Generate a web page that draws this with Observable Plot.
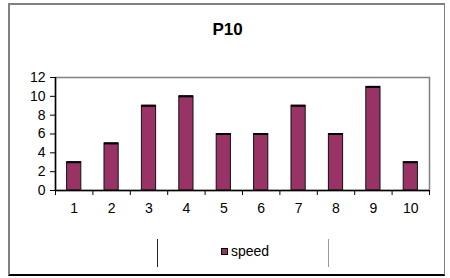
<!DOCTYPE html>
<html>
<head>
<meta charset="utf-8">
<script src="https://cdn.jsdelivr.net/npm/d3@7"></script>
<script src="https://cdn.jsdelivr.net/npm/@observablehq/plot@0.6"></script>
<style>
  html, body { margin: 0; padding: 0; background: #fff; }
  #wrap { position: relative; width: 450px; height: 278px; overflow: hidden; font-family: Arial, "Liberation Sans", sans-serif; }
  #border { position: absolute; left: 8px; top: 3px; width: 434px; height: 269px;
            border-top: 2px solid #808080; border-left: 2px solid #808080; border-right: 1px solid #808080; border-bottom: 2px solid #000; }
  #title { position: absolute; left: 0; top: 20px; width: 455px; text-align: center; font-weight: bold; font-size: 17px; color: #000; }
  #chart { position: absolute; left: 0; top: 0; }
  #legend { position: absolute; left: 157px; top: 239px; width: 172px; height: 28px; }
  #legend .l { position: absolute; left: 0; top: 0; width: 1px; height: 28px; background: #222; }
  #legend .r { position: absolute; right: 0; top: 0; width: 1px; height: 28px; background: #999; }
  #legend .item { position: absolute; left: 64px; top: 4px; font-size: 14px; color: #000; white-space: nowrap; }
  #legend .sw { display: inline-block; width: 5px; height: 5px; border: 1px solid #000; vertical-align: 1px; margin-right: 3px; }
</style>
</head>
<body>
<div id="wrap">
  <div id="border"></div>
  <div id="chart"></div>
  <div id="title"></div>
  <div id="legend"><div class="l"></div><div class="r"></div><div class="item"><span class="sw"></span><span class="txt"></span></div></div>
</div>
<script>
const title = "P10";
const seriesName = "speed";
const categories = [1, 2, 3, 4, 5, 6, 7, 8, 9, 10];
const speed = [3, 5, 9, 10, 6, 6, 9, 6, 11, 3];
const yTicks = [0, 2, 4, 6, 8, 10, 12];
const barColor = "#993366";

const data = categories.map((c, i) => ({cat: c, speed: speed[i]}));
const bounds = categories.map(c => c - 0.5).concat([categories[categories.length - 1] + 0.5]);
const half = 0.19;

const chart = Plot.plot({
  width: 450,
  height: 278,
  marginLeft: 55,
  marginRight: 21,
  marginTop: 77,
  marginBottom: 88,
  style: {background: "transparent", fontFamily: "Arial, 'Liberation Sans', sans-serif", fontSize: "14px", color: "#000"},
  x: {type: "linear", domain: [0.5, 10.5], label: null},
  y: {domain: [0, 12], label: null},
  marks: [
    Plot.frame({stroke: "#808080", strokeWidth: 1.5}),
    Plot.rectY(data, {x1: d => d.cat - half, x2: d => d.cat + half, y: "speed", fill: barColor, stroke: "#111", strokeWidth: 1}),
    Plot.ruleY(data, {x1: d => d.cat - half, x2: d => d.cat + half, y: "speed", stroke: "#000", strokeWidth: 2}),
    Plot.ruleY([0], {stroke: "#000", strokeWidth: 1.5}),
    Plot.ruleX([0.5], {y1: 0, y2: 12, stroke: "#000", strokeWidth: 1.5}),
    Plot.axisY({ticks: yTicks, tickSize: 5, tickPadding: 5, fontSize: 14, stroke: "#000", label: null}),
    Plot.axisX({ticks: bounds, tickSize: 5, tickFormat: () => "", stroke: "#000", label: null}),
    Plot.axisX({ticks: categories, tickSize: 0, tickPadding: 13, fontSize: 14, label: null})
  ]
});
document.getElementById("chart").appendChild(chart);
document.getElementById("title").textContent = title;
document.querySelector("#legend .txt").textContent = seriesName;
document.querySelector("#legend .sw").style.background = barColor;
</script>
</body>
</html>
